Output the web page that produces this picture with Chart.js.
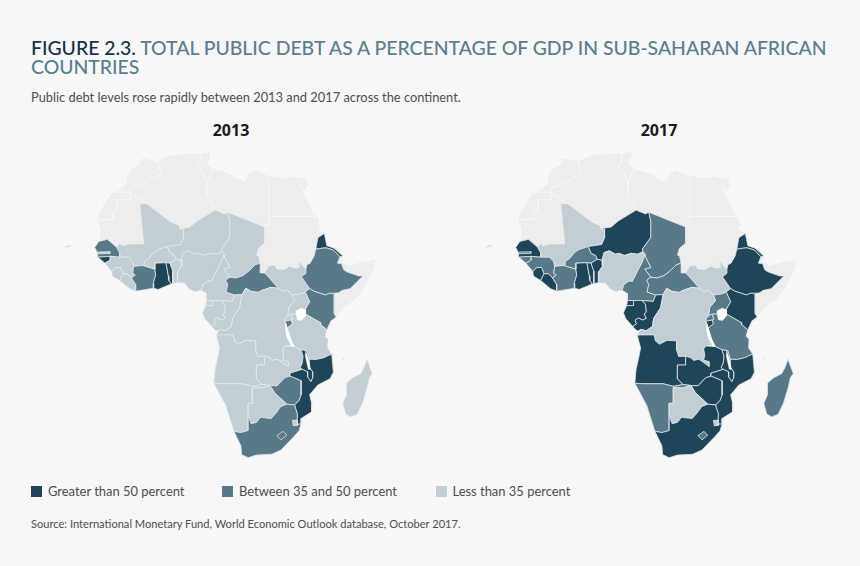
<!DOCTYPE html>
<html>
<head>
<meta charset="utf-8">
<title>Figure 2.3</title>
<script src="https://cdn.jsdelivr.net/npm/chart.js@4"></script>
<style>
  html, body { margin: 0; padding: 0; background: #f7f7f7; }
  body { position: relative; width: 860px; height: 566px; overflow: hidden; font-family: Lato, "Noto Sans", sans-serif; color: #4a4f52; }
  .abs { position: absolute; white-space: nowrap; }
  #title { left: 31px; top: 38px; font-size: 19.4px; line-height: 19px; color: #5a7f8e; font-weight: 500; letter-spacing: 0; }
  #title b { color: #14344a; font-weight: 500; }
  #sub { left: 31px; top: 89px; font-size: 12.85px; line-height: 16px; }
  .year { font-size: 16px; font-weight: 700; color: #1a1a1a; top: 121px; line-height: 18px; transform: translateX(-50%); font-family: "Open Sans", sans-serif; }
  .map { position: absolute; top: 140px; width: 348px; height: 327px; }
  .swatch { position: absolute; width: 11px; height: 11px; top: 486px; }
  .key { top: 483px; font-size: 12.95px; line-height: 17px; }
  #source { left: 31px; top: 516px; font-size: 11.1px; line-height: 15px; }
</style>
</head>
<body>
<div class="abs" id="title"><b>FIGURE 2.3.</b> TOTAL PUBLIC DEBT AS A PERCENTAGE OF GDP IN SUB-SAHARAN AFRICAN<br>COUNTRIES</div>
<div class="abs" id="sub">Public debt levels rose rapidly between 2013 and 2017 across the continent.</div>
<div class="abs year" style="left:231px">2013</div>
<div class="abs year" style="left:659px">2017</div>
<div class="map" style="left:64px"><canvas id="map2013"></canvas></div>
<div class="map" style="left:485px"><canvas id="map2017"></canvas></div>
<div id="legend"></div>
<div class="abs" id="source">Source: International Monetary Fund, World Economic Outlook database, October 2017.</div>

<script>
// classes: 0 = no data, 1 = less than 35, 2 = between 35 and 50, 3 = greater than 50
const legendLabels = ["Greater than 50 percent", "Between 35 and 50 percent", "Less than 35 percent"];

const countries = [
  "Morocco", "Western Sahara", "Algeria", "Tunisia", "Libya", "Egypt", "Sudan", "Somalia", "Djibouti", "Mauritania",
  "Mali", "Niger", "Chad", "South Sudan", "Eritrea", "Ethiopia", "Kenya", "Uganda", "Rwanda", "Burundi", "Tanzania",
  "Senegal", "Gambia", "Guinea-Bissau", "Guinea", "Sierra Leone", "Liberia", "Cote d'Ivoire", "Burkina Faso", "Ghana",
  "Togo", "Benin", "Nigeria", "Cameroon", "CAR", "Equatorial Guinea", "Gabon", "Congo", "DRC", "Angola", "Zambia",
  "Malawi", "Mozambique", "Zimbabwe", "Namibia", "Botswana", "South Africa", "Lesotho", "Eswatini", "Madagascar",
  "Comoros", "Cabo Verde"
];
const debt2013 = [
  0, 0, 0, 0, 0, 0, 0, 0, 0, 0,
  1, 1, 1, 1, 3, 2, 2, 1, 1, 2, 1,
  2, 1, 3, 1, 1, 1, 2, 1, 3,
  3, 1, 1, 1, 2, 1, 1, 1, 1, 1, 1,
  3, 3, 2, 1, 1, 2, 2, 1, 1,
  1, 1
];
const debt2017 = [
  0, 0, 0, 0, 0, 0, 0, 0, 0, 0,
  1, 3, 2, 1, 3, 3, 3, 2, 2, 3, 2,
  3, 2, 2, 2, 3, 3, 2, 2, 3,
  3, 3, 1, 2, 2, 3, 3, 3, 1, 3, 3,
  3, 3, 3, 2, 1, 3, 2, 1, 2,
  1, 1
];

// outlines as [longitude, latitude]
const outlines = {
  "Morocco": [[-5.9,35.8],[-2.2,35.1],[-1.7,33.2],[-1.2,32.1],[-3.7,30.9],[-5.6,29.7],[-8.7,28.7],[-8.7,27.7],[-13.2,27.7],[-11.5,28.3],[-9.8,29.8],[-9.7,31.5],[-8.5,33.3],[-6.8,34.1]],
  "Western Sahara": [[-13.2,27.7],[-8.7,27.7],[-8.7,26],[-12,26],[-12,23.4],[-13,23],[-13,21.3],[-17,21.3],[-16,23.7],[-14.5,26.1]],
  "Mauritania": [[-17,21.3],[-13,21.3],[-13,23],[-12,23.4],[-12,26],[-8.7,26],[-8.7,27.3],[-4.8,25],[-6.5,25],[-5.5,15.5],[-9.3,15.5],[-10.7,15.1],[-11.4,15.6],[-12.2,14.8],[-14.4,16.6],[-16.5,16.1],[-16.1,18.2],[-16.3,19.4]],
  "Algeria": [[-8.7,27.3],[-8.7,28.7],[-5.6,29.7],[-3.7,30.9],[-1.2,32.1],[-1.7,33.2],[-2.2,35.1],[1,36.5],[5,36.8],[8.6,36.9],[8.2,34.6],[7.5,33.8],[9,32.1],[9.9,30.3],[9.8,27],[11.9,23.5],[7.5,20.9],[5.8,19.5],[3.2,19.1],[3.2,19.8],[1.1,20.7],[-4.8,25]],
  "Tunisia": [[8.6,36.9],[10.2,37.3],[11,36.8],[10.2,34.3],[11.5,33.2],[10.3,30.9],[9.9,30.3],[9,32.1],[7.5,33.8],[8.2,34.6]],
  "Libya": [[11.5,33.2],[13,32.9],[15.3,32.3],[17.5,30.9],[19.2,30.3],[20.1,32.2],[21.7,32.9],[25,31.6],[25,22],[25,20],[24,20],[24,19.5],[15,23],[14.2,22.6],[11.9,23.5],[9.8,27],[9.9,30.3],[10.3,30.9]],
  "Egypt": [[25,31.6],[29,31],[31,31.6],[32.3,31.2],[34.2,31.3],[34.9,29.5],[34,27.9],[33.2,28.5],[32.6,29.9],[33.9,26.7],[35.5,24],[35.7,23],[36.9,22],[31.4,22],[25,22]],
  "Sudan": [[25,22],[36.9,22],[37.4,21],[37.2,19],[38.6,18],[37,17],[36.5,14.3],[36.1,12.7],[35.1,11],[34.3,10.6],[34.1,9.5],[33,10.7],[32.3,11.7],[32.5,10],[31.5,9.8],[30,10.3],[28.9,9.5],[27,9.6],[26.4,10.5],[25,10.3],[24,8.7],[23,8.7],[22.9,11],[22.5,12.7],[22,12.9],[22.5,14.5],[24,15.7],[24,19.5],[24,20],[25,20]],
  "South Sudan": [[24,8.7],[25.2,7.5],[26.4,6.1],[27.4,5.1],[28.4,4.3],[29.6,4.6],[30.8,3.5],[31.9,3.6],[33,3.8],[33.9,4.2],[35,5],[33,7.8],[34.1,8.6],[34.1,9.5],[33,10.7],[32.3,11.7],[32.5,10],[31.5,9.8],[30,10.3],[28.9,9.5],[27,9.6],[26.4,10.5],[25,10.3]],
  "Eritrea": [[36.5,14.3],[37,17],[38.6,18],[39.2,15.1],[41,14.5],[43.1,12.7],[42.4,12.5],[40.8,14.1],[39,14.6],[37.9,14.5],[37.4,14.4]],
  "Djibouti": [[43.1,12.7],[43.3,11.9],[42.8,10.9],[41.8,11],[42.4,12.5]],
  "Ethiopia": [[36.5,14.3],[37.4,14.4],[37.9,14.5],[39,14.6],[40.8,14.1],[42.4,12.5],[41.8,11],[42.8,10.9],[43.3,9.5],[44,9],[47,8],[48,8],[44.9,5],[43,4.6],[42,4],[41,3.9],[39.8,3.9],[38.9,3.5],[36,4.4],[35,5],[33,7.8],[34.1,8.6],[34.1,9.5],[34.3,10.6],[35.1,11],[36.1,12.7]],
  "Somalia": [[43.3,11.4],[44.5,10.4],[47,11.2],[51.2,11.9],[50.8,9.5],[48,4.5],[46,2.3],[43.5,0.5],[41.5,-1.7],[41,-0.9],[41,2.8],[42,4],[43,4.6],[44.9,5],[48,8],[47,8],[44,9],[43.3,9.5],[42.8,10.9]],
  "Kenya": [[35,5],[36,4.4],[38.9,3.5],[39.8,3.9],[41,3.9],[41,-0.9],[41.5,-1.7],[40.2,-2.6],[39.2,-4.7],[37.7,-3.5],[37.6,-3],[34,-1],[33.9,0.1],[34.5,1.1],[35,1.9],[33.9,4.2]],
  "Uganda": [[30.8,3.5],[31.9,3.6],[33,3.8],[33.9,4.2],[35,1.9],[34.5,1.1],[33.9,0.1],[34,-1],[30.5,-1],[29.6,-1.4],[29.9,0.6],[31.3,2.2]],
  "Rwanda": [[29.6,-1.4],[30.5,-1],[30.9,-2.3],[30.5,-2.4],[28.9,-2.7],[29,-2]],
  "Burundi": [[28.9,-2.7],[30.5,-2.4],[30.8,-3.3],[29.4,-4.4],[29.2,-3.2]],
  "Tanzania": [[30.5,-1],[34,-1],[37.6,-3],[37.7,-3.5],[39.2,-4.7],[38.8,-6.2],[39.5,-7],[39.4,-9],[40.4,-10.4],[38.4,-11.3],[36.5,-11.7],[34.9,-11.6],[34.3,-9.6],[32.9,-9.4],[31.2,-8.6],[30.4,-7],[29.4,-4.4],[30.8,-3.3],[30.5,-2.4],[30.9,-2.3]],
  "Mozambique": [[40.4,-10.4],[40.8,-14.7],[40,-16.2],[37,-17.7],[35,-20],[35.5,-22],[35.5,-24],[32.9,-25.6],[32.9,-26.9],[32,-26.9],[31.9,-25.9],[32,-24.5],[31.3,-22.4],[32.4,-21.3],[32.9,-20],[32.9,-16.7],[31,-15.9],[30.2,-15.6],[30.2,-14.9],[33.2,-14],[34.5,-14.6],[34.5,-15.8],[35.3,-16.9],[35.8,-15.9],[35.8,-14.6],[34.9,-13.5],[34.9,-11.6],[36.5,-11.7],[38.4,-11.3]],
  "Malawi": [[33.2,-14],[32.7,-13.6],[33.2,-12.5],[33.4,-11],[32.9,-9.4],[34.3,-9.6],[34.9,-11.6],[34.9,-13.5],[35.8,-14.6],[35.8,-15.9],[35.3,-16.9],[34.5,-15.8],[34.5,-14.6]],
  "Zambia": [[24,-10.9],[25.3,-11.3],[26,-11.9],[27.2,-11.6],[28.4,-12.4],[29.8,-13.4],[29.8,-12.2],[28.4,-11.8],[28.7,-10.7],[28.4,-9.2],[28.9,-8.5],[31.2,-8.6],[32.9,-9.4],[33.4,-11],[33.2,-12.5],[32.7,-13.6],[33.2,-14],[30.2,-14.9],[30.2,-15.6],[28.9,-16],[27,-17.9],[25.3,-17.8],[23.4,-17.6],[22,-16.2],[22,-13],[24,-13]],
  "Angola": [[12.2,-6],[13,-5.9],[16.3,-5.9],[16.6,-7.3],[17.6,-8.1],[19.4,-7.2],[21.8,-7.3],[21.8,-9.5],[22.3,-11],[24,-10.9],[24,-13],[22,-13],[22,-16.2],[23.4,-17.6],[21,-18],[18.5,-17.4],[14,-17.4],[11.6,-17.3],[11.9,-14],[12.6,-11],[13,-9]],
  "DRC": [[12.2,-6],[13,-5.9],[16.3,-5.9],[16.6,-7.3],[17.6,-8.1],[19.4,-7.2],[21.8,-7.3],[21.8,-9.5],[22.3,-11],[24,-10.9],[25.3,-11.3],[26,-11.9],[27.2,-11.6],[28.4,-12.4],[29.8,-13.4],[29.8,-12.2],[28.4,-11.8],[28.7,-10.7],[28.4,-9.2],[28.9,-8.5],[30.6,-8.4],[29.5,-6.5],[29.2,-4.4],[28.9,-2.7],[29,-2],[29.6,-1.4],[29.9,0.6],[31.3,2.2],[30.8,3.5],[29.6,4.6],[28.4,4.3],[27.4,5.1],[25.5,5.3],[23.4,4.6],[22.4,4.1],[20.6,4.4],[19.4,5.1],[18.5,3.6],[17.9,0.5],[16.2,-2],[15.9,-3.9],[14.4,-4.9],[13,-4.6],[12.4,-5.7]],
  "Gabon": [[8.8,-0.7],[9.6,1],[11.3,1],[11.3,2.2],[13.3,2.2],[14.2,1.4],[14.4,-0.5],[13.9,-1],[14.4,-2],[13.5,-2.4],[12.5,-1.9],[11.7,-2.4],[12,-3.3],[11.1,-3.9],[9.4,-2.1]],
  "Congo": [[11.1,-3.9],[12,-3.3],[11.7,-2.4],[12.5,-1.9],[13.5,-2.4],[14.4,-2],[13.9,-1],[14.4,-0.5],[14.2,1.4],[13.3,2.2],[16.1,2],[16.7,3.5],[18.5,3.6],[17.9,0.5],[16.2,-2],[15.9,-3.9],[14.4,-4.9],[13,-4.6],[12.4,-5],[11.8,-4.7]],
  "Equatorial Guinea": [[9.6,1],[11.3,1],[11.3,2.2],[9.8,2.2]],
  "Cameroon": [[8.5,4.6],[9.7,3.9],[9.8,2.2],[11.3,2.2],[13.3,2.2],[16.1,2],[16.7,3.5],[14.6,4.2],[15,6],[14.5,7],[15.5,7.7],[14,9.6],[15.5,10],[14.2,12.4],[14.1,13],[13.3,11],[12.2,9],[11,6.7],[10.2,6.8],[8.9,5.9]],
  "Nigeria": [[2.7,6.4],[4.4,6.3],[5.5,5],[6.8,4.3],[8.5,4.6],[8.9,5.9],[10.2,6.8],[11,6.7],[12.2,9],[13.3,11],[14.1,13],[13.6,13.7],[12.3,13.1],[10.7,13.3],[9,12.8],[7.8,13.3],[6.8,13.1],[5.4,13.9],[4.1,13.5],[3.6,11.7],[3.8,10.4],[2.8,9]],
  "Niger": [[3.6,11.7],[4.1,13.5],[5.4,13.9],[6.8,13.1],[7.8,13.3],[9,12.8],[10.7,13.3],[12.3,13.1],[13.6,13.7],[13.5,14.4],[15.4,16.9],[15.5,20.9],[15,23],[14.2,22.6],[11.9,23.5],[7.5,20.9],[5.8,19.5],[3.2,19.1],[4.2,19],[4.2,16.9],[3.5,15.4],[0.2,14.9],[0.9,13.3],[2,12.8],[2.4,11.9]],
  "Chad": [[24,19.5],[24,15.7],[22.5,14.5],[22,12.9],[22.5,12.7],[22.9,11],[21.7,10.6],[20,9],[18.6,8],[17,7.5],[15.5,7.7],[14,9.6],[15.5,10],[14.2,12.4],[14.1,13],[13.6,13.7],[13.5,14.4],[15.4,16.9],[15.5,20.9],[15,23]],
  "CAR": [[14.6,4.2],[16.7,3.5],[18.5,3.6],[19.4,5.1],[20.6,4.4],[22.4,4.1],[23.4,4.6],[25.5,5.3],[27.4,5.1],[26.4,6.1],[25.2,7.5],[24,8.7],[23,8.7],[22.9,11],[21.7,10.6],[20,9],[18.6,8],[17,7.5],[15.5,7.7],[14.5,7],[15,6]],
  "Benin": [[1.6,6.2],[2.7,6.4],[2.8,9],[3.8,10.4],[3.6,11.7],[2.4,11.9],[0.9,11],[1.6,9.1]],
  "Togo": [[1.2,6.1],[1.6,6.2],[1.6,9.1],[0.9,11],[-0.1,11.1],[0.5,8],[0.6,7]],
  "Ghana": [[-3.1,5.1],[-2,4.8],[1.2,6.1],[0.6,7],[0.5,8],[-0.1,11.1],[-2.8,11],[-2.8,9.6],[-2.6,8.2],[-3.2,6.2]],
  "Burkina Faso": [[-5.5,10.4],[-2.8,9.6],[-2.8,11],[-0.1,11.1],[0.9,11],[2.4,11.9],[2,12.8],[0.9,13.3],[0.2,14.9],[-2,14.2],[-3,13.6],[-4.4,12],[-5.3,11.5]],
  "Cote d'Ivoire": [[-7.5,4.4],[-3.1,5.1],[-3.2,6.2],[-2.6,8.2],[-2.8,9.6],[-5.5,10.4],[-6.5,10.4],[-8,10.2],[-8.2,8.6],[-7.6,8.2],[-8.5,7.5],[-7.5,6]],
  "Mali": [[-12.2,14.8],[-11.4,15.6],[-10.7,15.1],[-9.3,15.5],[-5.5,15.5],[-6.5,25],[-4.8,25],[1.1,20.7],[3.2,19.8],[3.2,19.1],[4.2,19],[4.2,16.9],[3.5,15.4],[0.2,14.9],[-2,14.2],[-3,13.6],[-4.4,12],[-5.3,11.5],[-5.5,10.4],[-6.5,10.4],[-8,10.2],[-8.3,11.5],[-9.3,12.4],[-11.4,12.4],[-11.4,13.4]],
  "Senegal": [[-17.5,14.7],[-16.5,16.1],[-14.4,16.6],[-12.2,14.8],[-11.4,13.4],[-11.4,12.4],[-13.7,12.6],[-16.7,12.4],[-16.8,13.4]],
  "Gambia": [[-16.8,13.6],[-13.8,13.7],[-13.8,13.3],[-16.8,13.2]],
  "Guinea-Bissau": [[-16.7,12.4],[-13.7,12.6],[-13.7,11.7],[-15,11],[-16,11.8]],
  "Guinea": [[-15,11],[-13.7,11.7],[-13.7,12.6],[-11.4,12.4],[-9.3,12.4],[-8.3,11.5],[-8,10.2],[-8.2,8.6],[-7.6,8.2],[-8.5,7.5],[-9.5,8.5],[-10.6,8.5],[-11.2,10],[-12.5,9.9],[-13.3,9]],
  "Sierra Leone": [[-13.3,9],[-12.5,9.9],[-11.2,10],[-10.6,8.5],[-11.4,6.9],[-13.2,8]],
  "Liberia": [[-11.4,6.9],[-10.6,8.5],[-9.5,8.5],[-8.5,7.5],[-7.5,6],[-7.5,4.4],[-9,5]],
  "Namibia": [[11.6,-17.3],[14,-17.4],[18.5,-17.4],[21,-18],[23.4,-17.6],[25.3,-17.8],[23.3,-18.4],[21,-18.3],[21,-22],[20,-22],[20,-28.4],[18.2,-28.9],[16.5,-28.6],[14.5,-22.5]],
  "Botswana": [[21,-18.3],[23.3,-18.4],[25.3,-17.8],[26.4,-19.5],[29.4,-22.2],[27.9,-22.8],[26.8,-24.3],[25.6,-25.6],[23,-25.3],[22,-26.5],[20.7,-26.8],[20,-24.8],[20,-22],[21,-22]],
  "Zimbabwe": [[25.3,-17.8],[27,-17.9],[28.9,-16],[30.2,-15.6],[31,-15.9],[32.9,-16.7],[32.9,-20],[32.4,-21.3],[31.3,-22.4],[29.4,-22.2],[26.4,-19.5]],
  "South Africa": [[16.5,-28.6],[18.2,-28.9],[20,-28.4],[20,-24.8],[20.7,-26.8],[22,-26.5],[23,-25.3],[25.6,-25.6],[26.8,-24.3],[27.9,-22.8],[29.4,-22.2],[31.3,-22.4],[32,-24.5],[31.9,-25.9],[32,-26.9],[32.9,-26.9],[32.4,-28.5],[31,-30],[28,-33],[25.7,-34],[22,-34.2],[20,-34.8],[18.4,-34.1],[18.2,-32]],
  "Lesotho": [[27,-29.6],[28.5,-28.6],[29.4,-29.5],[28,-30.6]],
  "Eswatini": [[30.8,-26],[32,-26],[32,-27.2],[31,-27.3]],
  "Madagascar": [[49,-11.6],[50.3,-15],[49.6,-16],[49,-18.5],[47.9,-22],[46.6,-24.6],[45,-25.2],[43.8,-24.5],[43.1,-22],[44,-20],[44,-17.2],[45.5,-16],[47.5,-15],[48.3,-13.5]],
  "Comoros": [[43.2,-11.4],[43.5,-11.8],[43.2,-12]],
  "Cabo Verde": [[-24.8,14.9],[-23.5,15.3],[-23.4,15],[-24.6,14.7]]
};

const lakes = [
  [[31.7,-0.2],[33,0.4],[34,0],[33.9,-1.5],[33,-2.5],[32,-2.3],[31.7,-1]],
  [[29.2,-3.3],[29.6,-4.4],[30.4,-7],[31.2,-8.6],[30.6,-8.5],[29.5,-6.5],[29.1,-4.5]],
  [[34,-9.6],[34.7,-11.5],[35.2,-14],[34.7,-14],[34.2,-12],[33.9,-10.5]]
];

const fillColors = ["#ededed", "#c1ced3", "#587a88", "#1f4558"];
const borderColors = ["#f7f7f7", "#e4e9eb", "#dfe5e8", "#dfe5e8"];
const lakeColor = "#ffffff";

function polygon(points, fill, border, order, width) {
  const closed = points.concat([points[0]]);
  return {
    data: closed.map(p => ({ x: p[0], y: p[1] })),
    showLine: true,
    fill: "shape",
    backgroundColor: fill,
    borderColor: border,
    borderWidth: width,
    pointRadius: 0,
    tension: 0,
    order: order
  };
}

function drawMap(id, classes) {
  const datasets = countries.map((name, i) =>
    polygon(outlines[name], fillColors[classes[i]], borderColors[classes[i]], 1000 - (classes[i] ? 100 + i : i), 0.8));
  lakes.forEach((lake, i) => datasets.push(polygon(lake, lakeColor, lakeColor, -i, 0.5)));

  new Chart(document.getElementById(id), {
    type: "scatter",
    data: { datasets },
    options: {
      responsive: true,
      maintainAspectRatio: false,
      animation: false,
      layout: { padding: 0 },
      plugins: { legend: { display: false }, tooltip: { enabled: false } },
      scales: {
        x: { type: "linear", min: -25, max: 60, display: false },
        y: { type: "linear", min: -37, max: 40, display: false }
      }
    }
  });
}

drawMap("map2013", debt2013);
drawMap("map2017", debt2017);

// legend
const legendLeft = [31, 222, 435.5];
const legendFill = [fillColors[3], fillColors[2], fillColors[1]];
const legend = document.getElementById("legend");
legendLabels.forEach((label, i) => {
  const s = document.createElement("div");
  s.className = "swatch";
  s.style.left = legendLeft[i] + "px";
  s.style.background = legendFill[i];
  legend.appendChild(s);
  const t = document.createElement("div");
  t.className = "abs key";
  t.style.left = (legendLeft[i] + 17) + "px";
  t.innerText = label;
  legend.appendChild(t);
});
</script>
</body>
</html>
